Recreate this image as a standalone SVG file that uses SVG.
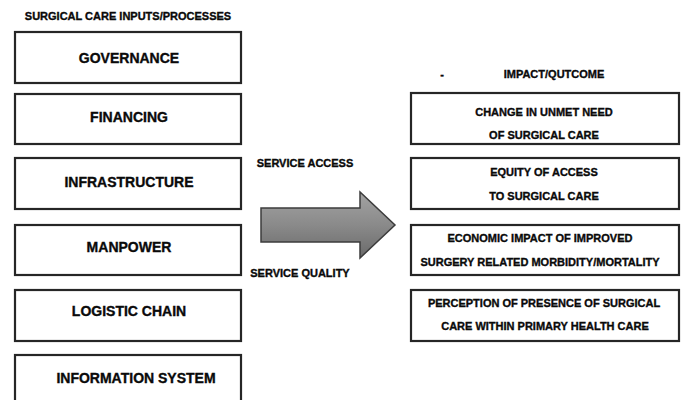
<svg xmlns="http://www.w3.org/2000/svg" width="686" height="400" viewBox="0 0 686 400">
  <style>
    .box { fill: #ffffff; stroke: #262626; stroke-width: 2.2; }
    .lbl { font-family: "Liberation Sans", Arial, sans-serif; font-weight: bold; fill: #0a0a0a; stroke: #0a0a0a; stroke-width: 0.35; text-anchor: middle; }
    .big { font-size: 14px; }
    .sm { font-size: 11px; }
  </style>
  <defs>
    <linearGradient id="arrowFill" x1="0" y1="0" x2="0" y2="1">
      <stop offset="0" stop-color="#a3a3a3"/>
      <stop offset="0.5" stop-color="#8a8a8a"/>
      <stop offset="1" stop-color="#6a6a6a"/>
    </linearGradient>
  </defs>
  <rect width="686" height="400" fill="#ffffff"/>

  <!-- column headings -->
  <text class="lbl sm" x="128" y="20">SURGICAL CARE INPUTS/PROCESSES</text>
  <text class="lbl sm" x="442" y="78">-</text>
  <text class="lbl sm" x="554" y="78">IMPACT/QUTCOME</text>

  <!-- inputs / processes -->
  <g id="governance">
    <rect class="box" x="15" y="32" width="226" height="51"/>
    <text class="lbl big" x="129" y="63">GOVERNANCE</text>
  </g>
  <g id="financing">
    <rect class="box" x="15" y="94" width="226" height="50"/>
    <text class="lbl big" x="129" y="122">FINANCING</text>
  </g>
  <g id="infrastructure">
    <rect class="box" x="15" y="158" width="226" height="51"/>
    <text class="lbl big" x="129" y="187">INFRASTRUCTURE</text>
  </g>
  <g id="manpower">
    <rect class="box" x="15" y="225" width="226" height="50"/>
    <text class="lbl big" x="129" y="252">MANPOWER</text>
  </g>
  <g id="logistic-chain">
    <rect class="box" x="15" y="290" width="226" height="51"/>
    <text class="lbl big" x="129" y="316">LOGISTIC CHAIN</text>
  </g>
  <g id="information-system">
    <rect class="box" x="15" y="355" width="226" height="60"/>
    <text class="lbl big" x="136" y="383">INFORMATION SYSTEM</text>
  </g>

  <!-- central transition arrow -->
  <g id="connectors">
    <path d="M261,208 H360 V192 L395,225 L360,258 V242 H261 Z" fill="url(#arrowFill)" stroke="#3c3c3c" stroke-width="1.5" stroke-linejoin="miter"/>
  </g>
  <text class="lbl sm" x="305" y="167">SERVICE ACCESS</text>
  <text class="lbl sm" x="300" y="277">SERVICE QUALITY</text>

  <!-- impact / outcome -->
  <g id="unmet-need">
    <rect class="box" x="411" y="93" width="268" height="51"/>
    <text class="lbl sm" x="544" y="116">CHANGE IN UNMET NEED</text>
    <text class="lbl sm" x="544" y="139">OF SURGICAL CARE</text>
  </g>
  <g id="equity">
    <rect class="box" x="411" y="158" width="268" height="51"/>
    <text class="lbl sm" x="544" y="176">EQUITY OF ACCESS</text>
    <text class="lbl sm" x="544" y="200">TO SURGICAL CARE</text>
  </g>
  <g id="economic-impact">
    <rect class="box" x="411" y="225" width="268" height="50"/>
    <text class="lbl sm" x="540" y="242">ECONOMIC IMPACT OF IMPROVED</text>
    <text class="lbl sm" x="540" y="266">SURGERY RELATED MORBIDITY/MORTALITY</text>
  </g>
  <g id="perception">
    <rect class="box" x="411" y="290" width="268" height="51"/>
    <text class="lbl sm" x="544" y="307">PERCEPTION OF PRESENCE OF SURGICAL</text>
    <text class="lbl sm" x="545" y="330">CARE WITHIN PRIMARY HEALTH CARE</text>
  </g>
</svg>
